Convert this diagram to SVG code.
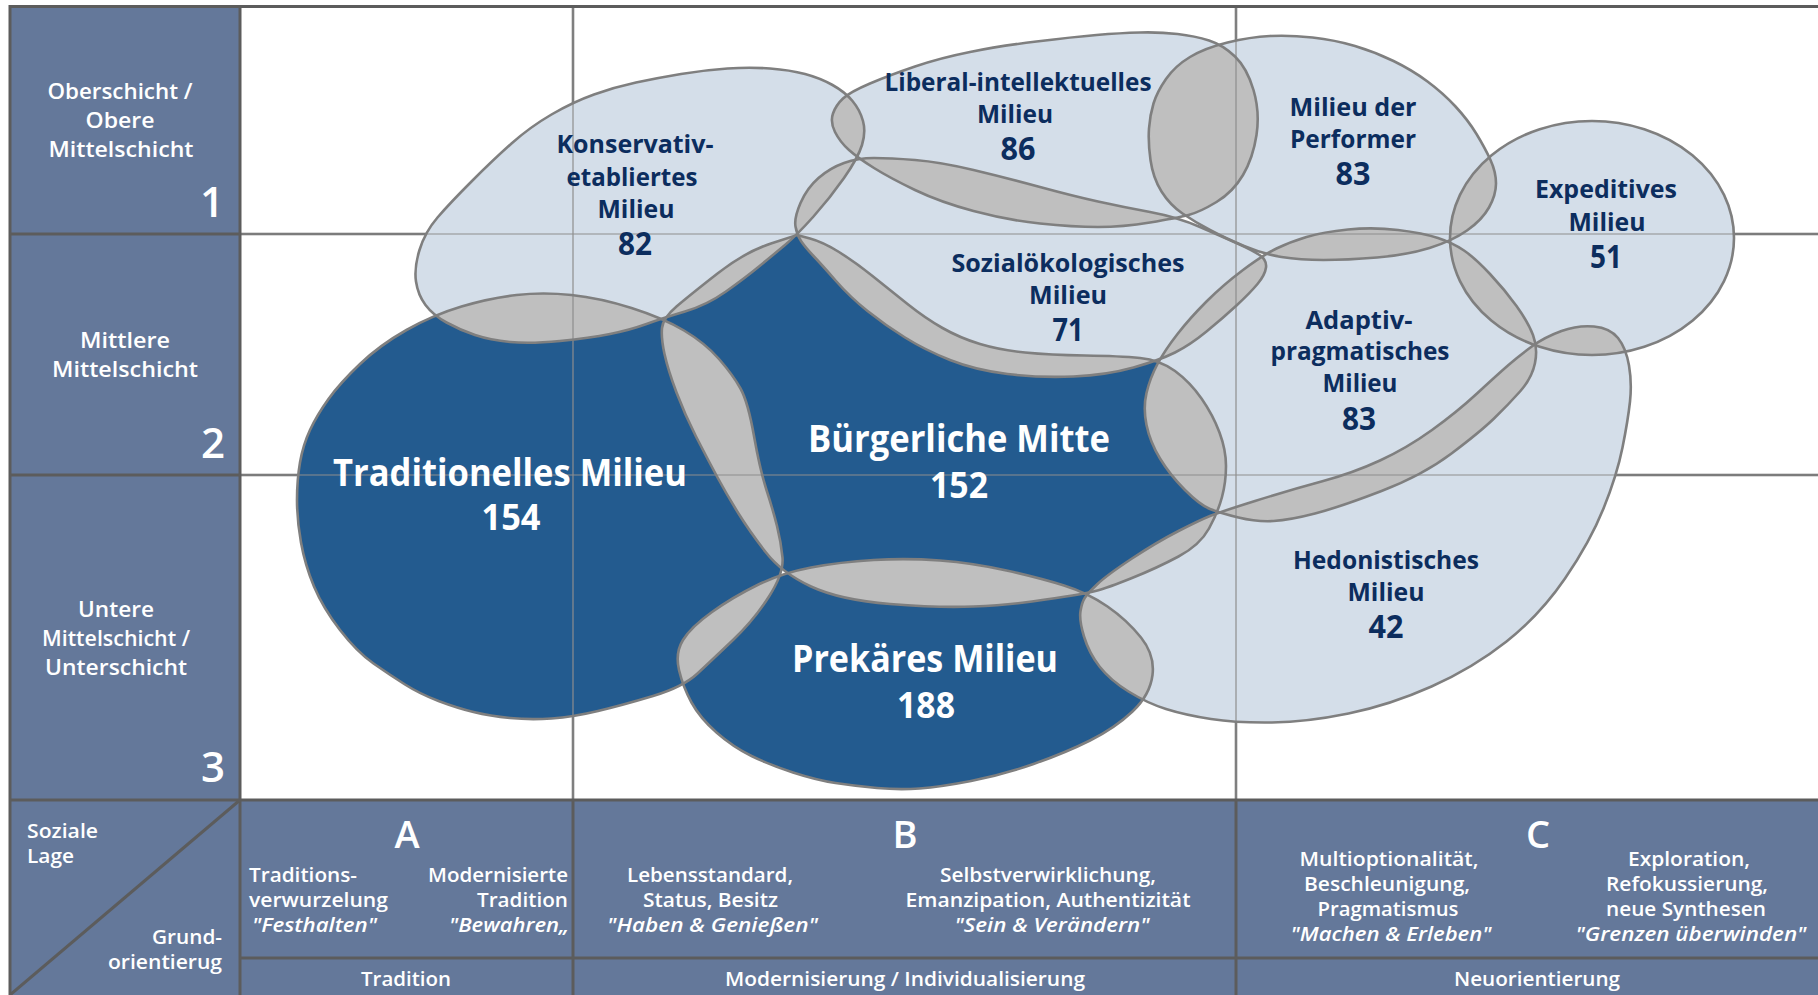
<svg xmlns="http://www.w3.org/2000/svg" xmlns:xlink="http://www.w3.org/1999/xlink" width="1818" height="995" viewBox="0 0 1818 995">
<style>
.panel{fill:#64789a}
.frame{stroke:#5c5c5c;stroke-width:3;fill:none}
.gdark{stroke:#6a6a6a;stroke-width:2.5}
.glight{stroke:#8e8e8e;stroke-width:1.2}
.lt{fill:#d4dee9}
.dk{fill:#235b8f}
.ov{fill:#bfbfbf}
.ol{fill:none;stroke:#7f7f7f;stroke-width:2.6}
text{font-family:"Open Sans","Noto Sans","DejaVu Sans",sans-serif;font-weight:700}
.w{fill:#ffffff}
.n{fill:#0c2d5e}
.ax{font-size:22px;font-weight:600}
.num{font-size:42px;font-weight:600}
.sm{font-size:19px;font-weight:600}
.it{font-style:italic}
.big{font-size:38px}
.lab{font-size:25px}
.lnum{font-size:32px}
.bnum{font-size:35px}
.let{font-size:38px;font-weight:600}
</style>
<defs>
<path id="sK" d="M416,281.5 Q414,268 419.5,250 Q425,232 437.5,217.5 Q450,203 471.5,181.5 Q493,160 511.5,143.5 Q530,127 551.5,114.5 Q573,102 594,94.5 Q615,87 636,82.5 Q657,78 681,74 Q705,70 727.5,68.5 Q750,67 770,68.5 Q790,70 805,74 Q820,78 832.5,85 Q845,92 852.5,101 Q860,110 863,121 Q866,132 862,145 Q858,158 844,178 Q830,198 813.5,216.5 Q797,235 785,245 Q773,255 759,266.5 Q745,278 726,291.5 Q707,305 685,311.5 Q663,318 646.5,324 Q630,330 610,334 Q590,338 560,341 Q530,344 510,342 Q490,340 475,335 Q460,330 446.5,322.5 Q433,315 425.5,305 Q418,295 416,281.5 Z"/>
<path id="sL" d="M835,132 Q830,122 833,113.5 Q836,105 843,98.5 Q850,92 870,83.5 Q890,75 915,66.5 Q940,58 970,52 Q1000,46 1036.5,41.5 Q1073,37 1096.5,35 Q1120,33 1140,32.5 Q1160,32 1177.5,34 Q1195,36 1209,40.5 Q1223,45 1235,56.5 Q1247,68 1253.5,90 Q1260,112 1256.5,135 Q1253,158 1243,175 Q1233,192 1216.5,202 Q1200,212 1188.5,215 Q1177,218 1150,222.5 Q1123,227 1098,227 Q1073,227 1040,223.5 Q1007,220 973.5,211 Q940,202 915,190 Q890,178 874,168 Q858,158 849,150 Q840,142 835,132 Z"/>
<path id="sP" d="M1150.5,160 Q1148,142 1149,128.5 Q1150,115 1153.5,103.5 Q1157,92 1166,79 Q1175,66 1190,57 Q1205,48 1227.5,42.5 Q1250,37 1270,36 Q1290,35 1312.5,37.5 Q1335,40 1355,46 Q1375,52 1393.5,61 Q1412,70 1427.5,81.5 Q1443,93 1455.5,106.5 Q1468,120 1476.5,134 Q1485,148 1490.5,160 Q1496,172 1496,183.5 Q1496,195 1489,207.5 Q1482,220 1467,230.5 Q1452,241 1429.5,248 Q1407,255 1377,257.5 Q1347,260 1323.5,260 Q1300,260 1281.5,257 Q1263,254 1244,246 Q1225,238 1210,230 Q1195,222 1182.5,213.5 Q1170,205 1161.5,191.5 Q1153,178 1150.5,160 Z"/>
<ellipse id="sE" cx="1592" cy="238" rx="142" ry="117"/>
<path id="sS" d="M801,241 Q797,235 795.5,226.5 Q794,218 800.5,203 Q807,188 818.5,178 Q830,168 844,163 Q858,158 874,158 Q890,158 915,160 Q940,162 973.5,170 Q1007,178 1040,187 Q1073,196 1098,201.5 Q1123,207 1150,212 Q1177,217 1200,227 Q1223,237 1237.5,243.5 Q1252,250 1259.5,255 Q1267,260 1266,267.5 Q1265,275 1257.5,284 Q1250,293 1236.5,305.5 Q1223,318 1206.5,331.5 Q1190,345 1175,352.5 Q1160,360 1133.5,367.5 Q1107,375 1073.5,376.5 Q1040,378 1007.5,374 Q975,370 950,360 Q925,350 905,337.5 Q885,325 867.5,311 Q850,297 836,281 Q822,265 813.5,256 Q805,247 801,241 Z"/>
<path id="sA" d="M1243,270 Q1263,255 1276.5,248.5 Q1290,242 1306.5,237 Q1323,232 1348,229.5 Q1373,227 1398,230 Q1423,233 1438,238 Q1453,243 1464,250.5 Q1475,258 1490,274 Q1505,290 1516.5,306 Q1528,322 1533,335 Q1538,348 1535,363 Q1532,378 1520,391.5 Q1508,405 1494,418.5 Q1480,432 1451.5,453.5 Q1423,475 1381.5,491 Q1340,507 1315,513.5 Q1290,520 1273.5,521 Q1257,522 1238.5,517.5 Q1220,513 1210,509 Q1200,505 1185,490 Q1170,475 1160,458.5 Q1150,442 1146.5,425 Q1143,408 1146.5,393 Q1150,378 1157.5,364 Q1165,350 1177.5,334 Q1190,318 1206.5,301.5 Q1223,285 1243,270 Z"/>
<path id="sH" d="M1085,597.5 Q1088,593 1097.5,584 Q1107,575 1132,558.5 Q1157,542 1178.5,531 Q1200,520 1210,516 Q1220,512 1255,501 Q1290,490 1321.5,481.5 Q1353,473 1380,460.5 Q1407,448 1432,430 Q1457,412 1477,393.5 Q1497,375 1508.5,365 Q1520,355 1532.5,346 Q1545,337 1561.5,331 Q1578,325 1594,326.5 Q1610,328 1618,338 Q1626,348 1629,365.5 Q1632,383 1630,401.5 Q1628,420 1622.5,447.5 Q1617,475 1603.5,508.5 Q1590,542 1565,578.5 Q1540,615 1506.5,641.5 Q1473,668 1431.5,686.5 Q1390,705 1348.5,713.5 Q1307,722 1272,722.5 Q1237,723 1211,719 Q1185,715 1166,709 Q1147,703 1128.5,691.5 Q1110,680 1099.5,666.5 Q1089,653 1084,636.5 Q1079,620 1080.5,611 Q1082,602 1085,597.5 Z"/>
<path id="sT" d="M697.5,673.5 Q683,687 653,696 Q623,705 598,711 Q573,717 551.5,718.5 Q530,720 510,718 Q490,716 473.5,712 Q457,708 438.5,701 Q420,694 405,684.5 Q390,675 373.5,663.5 Q357,652 340,630 Q323,608 314,586.5 Q305,565 301,542.5 Q297,520 297,500 Q297,480 300,462.5 Q303,445 310,430 Q317,415 328.5,399 Q340,383 360,364 Q380,345 406.5,330 Q433,315 461.5,306.5 Q490,298 516.5,295 Q543,292 571.5,295 Q600,298 631.5,308 Q663,318 684,330.5 Q705,343 719,359 Q733,375 740.5,388.5 Q748,402 754,436 Q760,470 766.5,490 Q773,510 777,526 Q781,542 782.5,557.5 Q784,573 769,596.5 Q754,620 733,640 Q712,660 697.5,673.5 Z"/>
<path id="sB" d="M797,235 L810,238.5 Q823,242 839,252 Q855,262 872.5,276 Q890,290 907.5,304 Q925,318 942.5,328 Q960,338 980,344 Q1000,350 1025,352.5 Q1050,355 1085,355.5 Q1120,356 1140,358 Q1160,360 1175,371 Q1190,382 1201.5,398.5 Q1213,415 1219.5,432.5 Q1226,450 1226,466 Q1226,482 1222,497 Q1218,512 1209,528.5 Q1200,545 1178.5,556.5 Q1157,568 1132,578 Q1107,588 1097.5,590.5 Q1088,593 1072.5,595.5 Q1057,598 1032,601.5 Q1007,605 973.5,606.5 Q940,608 890,604 Q840,600 811,586.5 Q782,573 766,552.5 Q750,532 738.5,513.5 Q727,495 717,476.5 Q707,458 696,436.5 Q685,415 676.5,392.5 Q668,370 664.5,354 Q661,338 662,328 Q663,318 676.5,306.5 Q690,295 717.5,273.5 Q745,252 771,243.5 Z"/>
<path id="sR" d="M757.5,585 Q782,573 811,567.5 Q840,562 873.5,560 Q907,558 940,560.5 Q973,563 1006.5,570.5 Q1040,578 1064,585.5 Q1088,593 1107.5,606.5 Q1127,620 1141,637.5 Q1155,655 1152.5,675 Q1150,695 1132.5,711.5 Q1115,728 1090,740.5 Q1065,753 1033.5,764 Q1002,775 971,781 Q940,787 919.5,788.5 Q899,790 877,788 Q855,786 835.5,783 Q816,780 793,772.5 Q770,765 751.5,756 Q733,747 716.5,732.5 Q700,718 691.5,702.5 Q683,687 679,670 Q675,653 683,640 Q691,627 712,612 Q733,597 757.5,585 Z"/>
<clipPath id="c1"><use href="#sK"/></clipPath>
<clipPath id="c2"><use href="#sK"/><use href="#sL"/></clipPath>
<clipPath id="c3"><use href="#sK"/><use href="#sL"/><use href="#sP"/></clipPath>
<clipPath id="c4"><use href="#sK"/><use href="#sL"/><use href="#sP"/><use href="#sE"/></clipPath>
<clipPath id="c5"><use href="#sK"/><use href="#sL"/><use href="#sP"/><use href="#sE"/><use href="#sS"/></clipPath>
<clipPath id="c6"><use href="#sK"/><use href="#sL"/><use href="#sP"/><use href="#sE"/><use href="#sS"/><use href="#sA"/></clipPath>
<clipPath id="c7"><use href="#sK"/><use href="#sL"/><use href="#sP"/><use href="#sE"/><use href="#sS"/><use href="#sA"/><use href="#sH"/></clipPath>
<clipPath id="c8"><use href="#sK"/><use href="#sL"/><use href="#sP"/><use href="#sE"/><use href="#sS"/><use href="#sA"/><use href="#sH"/><use href="#sT"/></clipPath>
<clipPath id="c9"><use href="#sK"/><use href="#sL"/><use href="#sP"/><use href="#sE"/><use href="#sS"/><use href="#sA"/><use href="#sH"/><use href="#sT"/><use href="#sB"/></clipPath>
</defs>

<rect x="0" y="0" width="1818" height="995" fill="#ffffff"/>
<g id="panels">
<rect class="panel" x="10" y="6" width="230" height="989"/>
<rect class="panel" x="240" y="800" width="1578" height="195"/>
</g>
<g id="grid-under">
<line class="gdark" x1="573" y1="6" x2="573" y2="800"/>
<line class="gdark" x1="1236" y1="6" x2="1236" y2="800"/>
<line class="gdark" x1="240" y1="234" x2="1818" y2="234"/>
<line class="gdark" x1="240" y1="475" x2="1818" y2="475"/>
</g>
<g id="fills">
<use href="#sK" class="lt"/><use href="#sL" class="lt"/><use href="#sP" class="lt"/><use href="#sE" class="lt"/><use href="#sS" class="lt"/><use href="#sA" class="lt"/><use href="#sH" class="lt"/>
<use href="#sT" class="dk"/><use href="#sB" class="dk"/><use href="#sR" class="dk"/>
</g>
<g id="overlaps">
<use href="#sL" class="ov" clip-path="url(#c1)"/>
<use href="#sP" class="ov" clip-path="url(#c2)"/>
<use href="#sE" class="ov" clip-path="url(#c3)"/>
<use href="#sS" class="ov" clip-path="url(#c4)"/>
<use href="#sA" class="ov" clip-path="url(#c5)"/>
<use href="#sH" class="ov" clip-path="url(#c6)"/>
<use href="#sT" class="ov" clip-path="url(#c7)"/>
<use href="#sB" class="ov" clip-path="url(#c8)"/>
<use href="#sR" class="ov" clip-path="url(#c9)"/>
</g>
<g id="grid-over">
<line class="glight" x1="573" y1="6" x2="573" y2="800"/>
<line class="glight" x1="1236" y1="6" x2="1236" y2="800"/>
<line class="glight" x1="240" y1="234" x2="1818" y2="234"/>
<line class="glight" x1="240" y1="475" x2="1818" y2="475"/>
</g>
<g id="frame">
<line class="frame" x1="10" y1="6.5" x2="1818" y2="6.5"/>
<line class="frame" x1="10" y1="5" x2="10" y2="995"/>
<line class="frame" x1="240" y1="5" x2="240" y2="995"/>
<line class="frame" x1="10" y1="234" x2="240" y2="234"/>
<line class="frame" x1="10" y1="475" x2="240" y2="475"/>
<line class="frame" x1="10" y1="800" x2="1818" y2="800"/>
<line class="frame" x1="240" y1="958" x2="1818" y2="958"/>
<line class="frame" x1="573" y1="800" x2="573" y2="995"/>
<line class="frame" x1="1236" y1="800" x2="1236" y2="995"/>
<line class="frame" x1="240" y1="800" x2="10" y2="995"/>
</g>

<g id="axis-rows">
<text class="w ax" x="120" y="99" text-anchor="middle" textLength="145" lengthAdjust="spacingAndGlyphs">Oberschicht /</text>
<text class="w ax" x="120" y="128" text-anchor="middle" textLength="69" lengthAdjust="spacingAndGlyphs">Obere</text>
<text class="w ax" x="121" y="157" text-anchor="middle" textLength="145" lengthAdjust="spacingAndGlyphs">Mittelschicht</text>
<text class="w num" x="224" y="217" text-anchor="end">1</text>
<text class="w ax" x="125" y="348" text-anchor="middle" textLength="90" lengthAdjust="spacingAndGlyphs">Mittlere</text>
<text class="w ax" x="125" y="377" text-anchor="middle" textLength="146" lengthAdjust="spacingAndGlyphs">Mittelschicht</text>
<text class="w num" x="225" y="458" text-anchor="end">2</text>
<text class="w ax" x="116" y="617" text-anchor="middle" textLength="76" lengthAdjust="spacingAndGlyphs">Untere</text>
<text class="w ax" x="116" y="646" text-anchor="middle" textLength="148" lengthAdjust="spacingAndGlyphs">Mittelschicht /</text>
<text class="w ax" x="116" y="675" text-anchor="middle" textLength="142" lengthAdjust="spacingAndGlyphs">Unterschicht</text>
<text class="w num" x="225" y="782" text-anchor="end">3</text>
</g>
<g id="axis-corner">
<text class="w sm" x="27" y="838" textLength="71" lengthAdjust="spacingAndGlyphs">Soziale</text>
<text class="w sm" x="27" y="863" textLength="47" lengthAdjust="spacingAndGlyphs">Lage</text>
<text class="w sm" x="222" y="944" text-anchor="end" textLength="70" lengthAdjust="spacingAndGlyphs">Grund-</text>
<text class="w sm" x="222" y="969" text-anchor="end" textLength="114" lengthAdjust="spacingAndGlyphs">orientierug</text>
</g>
<g id="column-A">
<text class="w let" x="407" y="848" text-anchor="middle">A</text>
<text class="w sm" x="249" y="882" textLength="108" lengthAdjust="spacingAndGlyphs">Traditions-</text>
<text class="w sm" x="249" y="907" textLength="139" lengthAdjust="spacingAndGlyphs">verwurzelung</text>
<text class="w sm it" x="252" y="932" textLength="125" lengthAdjust="spacingAndGlyphs">"Festhalten"</text>
<text class="w sm" x="568" y="882" text-anchor="end" textLength="140" lengthAdjust="spacingAndGlyphs">Modernisierte</text>
<text class="w sm" x="568" y="907" text-anchor="end" textLength="91" lengthAdjust="spacingAndGlyphs">Tradition</text>
<text class="w sm it" x="569" y="932" text-anchor="end" textLength="120" lengthAdjust="spacingAndGlyphs">"Bewahren„</text>
<text class="w sm" x="406" y="986" text-anchor="middle" textLength="90" lengthAdjust="spacingAndGlyphs">Tradition</text>
</g>
<g id="column-B">
<text class="w let" x="905" y="848" text-anchor="middle">B</text>
<text class="w sm" x="627" y="882" textLength="166" lengthAdjust="spacingAndGlyphs">Lebensstandard,</text>
<text class="w sm" x="643" y="907" textLength="135" lengthAdjust="spacingAndGlyphs">Status, Besitz</text>
<text class="w sm it" x="607" y="932" textLength="211" lengthAdjust="spacingAndGlyphs">"Haben &amp; Genießen"</text>
<text class="w sm" x="1048" y="882" text-anchor="middle" textLength="216" lengthAdjust="spacingAndGlyphs">Selbstverwirklichung,</text>
<text class="w sm" x="1048" y="907" text-anchor="middle" textLength="285" lengthAdjust="spacingAndGlyphs">Emanzipation, Authentizität</text>
<text class="w sm it" x="1052" y="932" text-anchor="middle" textLength="195" lengthAdjust="spacingAndGlyphs">"Sein &amp; Verändern"</text>
<text class="w sm" x="905" y="986" text-anchor="middle" textLength="360" lengthAdjust="spacingAndGlyphs">Modernisierung / Individualisierung</text>
</g>
<g id="column-C">
<text class="w let" x="1538" y="848" text-anchor="middle">C</text>
<text class="w sm" x="1389" y="866" text-anchor="middle" textLength="179" lengthAdjust="spacingAndGlyphs">Multioptionalität,</text>
<text class="w sm" x="1387" y="891" text-anchor="middle" textLength="166" lengthAdjust="spacingAndGlyphs">Beschleunigung,</text>
<text class="w sm" x="1388" y="916" text-anchor="middle" textLength="141" lengthAdjust="spacingAndGlyphs">Pragmatismus</text>
<text class="w sm it" x="1391" y="941" text-anchor="middle" textLength="201" lengthAdjust="spacingAndGlyphs">"Machen &amp; Erleben"</text>
<text class="w sm" x="1689" y="866" text-anchor="middle" textLength="122" lengthAdjust="spacingAndGlyphs">Exploration,</text>
<text class="w sm" x="1687" y="891" text-anchor="middle" textLength="162" lengthAdjust="spacingAndGlyphs">Refokussierung,</text>
<text class="w sm" x="1686" y="916" text-anchor="middle" textLength="160" lengthAdjust="spacingAndGlyphs">neue Synthesen</text>
<text class="w sm it" x="1691" y="941" text-anchor="middle" textLength="231" lengthAdjust="spacingAndGlyphs">"Grenzen überwinden"</text>
<text class="w sm" x="1537" y="986" text-anchor="middle" textLength="166" lengthAdjust="spacingAndGlyphs">Neuorientierung</text>
</g>

<g id="konservativ-etabliertes">
<use href="#sK" class="ol"/>
<text class="n lab" x="635" y="153" text-anchor="middle" textLength="157" lengthAdjust="spacingAndGlyphs">Konservativ-</text>
<text class="n lab" x="632" y="186" text-anchor="middle" textLength="131" lengthAdjust="spacingAndGlyphs">etabliertes</text>
<text class="n lab" x="636" y="218" text-anchor="middle" textLength="77" lengthAdjust="spacingAndGlyphs">Milieu</text>
<text class="n lnum" x="635" y="255" text-anchor="middle" textLength="34" lengthAdjust="spacingAndGlyphs">82</text>
</g>
<g id="liberal-intellektuelles">
<use href="#sL" class="ol"/>
<text class="n lab" x="1018" y="91" text-anchor="middle" textLength="267" lengthAdjust="spacingAndGlyphs">Liberal-intellektuelles</text>
<text class="n lab" x="1015" y="123" text-anchor="middle" textLength="76" lengthAdjust="spacingAndGlyphs">Milieu</text>
<text class="n lnum" x="1018" y="160" text-anchor="middle" textLength="35" lengthAdjust="spacingAndGlyphs">86</text>
</g>
<g id="performer">
<use href="#sP" class="ol"/>
<text class="n lab" x="1353" y="116" text-anchor="middle" textLength="127" lengthAdjust="spacingAndGlyphs">Milieu der</text>
<text class="n lab" x="1353" y="148" text-anchor="middle" textLength="126" lengthAdjust="spacingAndGlyphs">Performer</text>
<text class="n lnum" x="1353" y="185" text-anchor="middle" textLength="35" lengthAdjust="spacingAndGlyphs">83</text>
</g>
<g id="expeditives">
<use href="#sE" class="ol"/>
<text class="n lab" x="1606" y="198" text-anchor="middle" textLength="142" lengthAdjust="spacingAndGlyphs">Expeditives</text>
<text class="n lab" x="1607" y="231" text-anchor="middle" textLength="77" lengthAdjust="spacingAndGlyphs">Milieu</text>
<text class="n lnum" x="1606" y="268" text-anchor="middle" textLength="32" lengthAdjust="spacingAndGlyphs">51</text>
</g>
<g id="sozialoekologisches">
<use href="#sS" class="ol"/>
<text class="n lab" x="1068" y="272" text-anchor="middle" textLength="233" lengthAdjust="spacingAndGlyphs">Sozialökologisches</text>
<text class="n lab" x="1068" y="304" text-anchor="middle" textLength="78" lengthAdjust="spacingAndGlyphs">Milieu</text>
<text class="n lnum" x="1068" y="341" text-anchor="middle" textLength="31" lengthAdjust="spacingAndGlyphs">71</text>
</g>
<g id="adaptiv-pragmatisches">
<use href="#sA" class="ol"/>
<text class="n lab" x="1359" y="329" text-anchor="middle" textLength="107" lengthAdjust="spacingAndGlyphs">Adaptiv-</text>
<text class="n lab" x="1360" y="360" text-anchor="middle" textLength="179" lengthAdjust="spacingAndGlyphs">pragmatisches</text>
<text class="n lab" x="1360" y="392" text-anchor="middle" textLength="75" lengthAdjust="spacingAndGlyphs">Milieu</text>
<text class="n lnum" x="1359" y="430" text-anchor="middle" textLength="34" lengthAdjust="spacingAndGlyphs">83</text>
</g>
<g id="hedonistisches">
<use href="#sH" class="ol"/>
<text class="n lab" x="1386" y="569" text-anchor="middle" textLength="186" lengthAdjust="spacingAndGlyphs">Hedonistisches</text>
<text class="n lab" x="1386" y="601" text-anchor="middle" textLength="77" lengthAdjust="spacingAndGlyphs">Milieu</text>
<text class="n lnum" x="1386" y="638" text-anchor="middle" textLength="35" lengthAdjust="spacingAndGlyphs">42</text>
</g>
<g id="traditionelles">
<use href="#sT" class="ol"/>
<text class="w big" x="510" y="486" text-anchor="middle" textLength="354" lengthAdjust="spacingAndGlyphs">Traditionelles Milieu</text>
<text class="w bnum" x="511" y="530" text-anchor="middle" textLength="59" lengthAdjust="spacingAndGlyphs">154</text>
</g>
<g id="buergerliche-mitte">
<use href="#sB" class="ol"/>
<text class="w big" x="959" y="452" text-anchor="middle" textLength="302" lengthAdjust="spacingAndGlyphs">Bürgerliche Mitte</text>
<text class="w bnum" x="959" y="498" text-anchor="middle" textLength="58" lengthAdjust="spacingAndGlyphs">152</text>
</g>
<g id="prekaeres">
<use href="#sR" class="ol"/>
<text class="w big" x="925" y="672" text-anchor="middle" textLength="266" lengthAdjust="spacingAndGlyphs">Prekäres Milieu</text>
<text class="w bnum" x="926" y="718" text-anchor="middle" textLength="58" lengthAdjust="spacingAndGlyphs">188</text>
</g>
</svg>
